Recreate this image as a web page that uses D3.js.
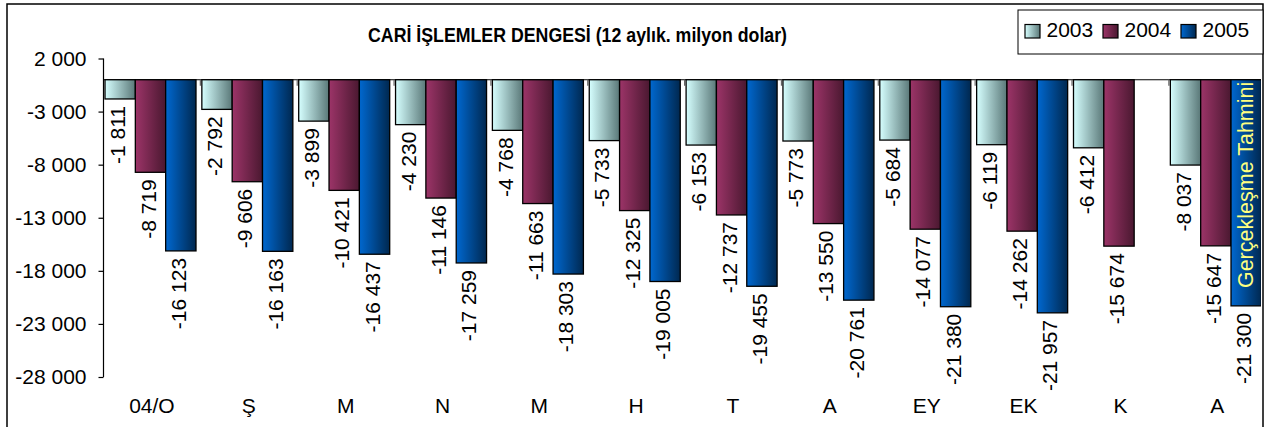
<!DOCTYPE html>
<html>
<head>
<meta charset="utf-8">
<script src="https://cdn.jsdelivr.net/npm/d3@7/dist/d3.min.js"></script>
<style>
  html, body { margin: 0; padding: 0; background: #fff; }
  svg { display: block; font-family: "Liberation Sans", Arial, sans-serif; }
</style>
</head>
<body>
<svg id="chart" width="1265" height="427"></svg>
<script>
const categories = ["04/O", "Ş", "M", "N", "M", "H", "T", "A", "EY", "EK", "K", "A"];
const seriesNames = ["2003", "2004", "2005"];
const values2003 = [-1811, -2792, -3899, -4230, -4768, -5733, -6153, -5773, -5684, -6119, -6412, -8037];
const values2004 = [-8719, -9606, -10421, -11146, -11663, -12325, -12737, -13550, -14077, -14262, -15674, -15647];
const values2005 = [-16123, -16163, -16437, -17259, -18303, -19005, -19455, -20761, -21380, -21957, null, -21300];
const yTicks = [2000, -3000, -8000, -13000, -18000, -23000, -28000];
const titleText = "CARİ İŞLEMLER DENGESİ (12 aylık. milyon dolar)";
const noteText = "Gerçekleşme Tahmini";

const seriesValues = [values2003, values2004, values2005];
const gradStops = [
  ["#d6ffff", "#5a7878"],
  ["#9c3468", "#4a1830"],
  ["#0068d0", "#002850"]
];

const svg = d3.select("#chart");
const loc = d3.formatLocale({decimal: ",", thousands: " ", grouping: [3], currency: ["", ""], minus: "-"});
const fmt = loc.format(",d");

// gradients
const defs = svg.append("defs");
gradStops.forEach((s, i) => {
  const g = defs.append("linearGradient").attr("id", "g" + i)
    .attr("x1", "0%").attr("x2", "100%").attr("y1", "0%").attr("y2", "0%");
  g.append("stop").attr("offset", "0%").attr("stop-color", s[0]);
  g.append("stop").attr("offset", "100%").attr("stop-color", s[1]);
});

const plotLeft = 103.5, groupW = 96.85;
const plotRight = 1261;
defs.append("clipPath").attr("id", "plotclip").append("rect")
  .attr("x", 0).attr("y", 0).attr("width", plotRight).attr("height", 427);

const x0 = d3.scaleBand().domain(d3.range(categories.length))
  .range([plotLeft, plotLeft + groupW * categories.length]).paddingInner(0).paddingOuter(0);
const x1 = d3.scaleBand().domain(d3.range(seriesNames.length)).range([1.5, 92.5]).padding(0);
const y = d3.scaleLinear().domain([2000, -28000]).range([58.5, 377]);

// outer border
svg.append("rect").attr("x", 7).attr("y", 4).attr("width", 1256).attr("height", 440)
  .attr("fill", "none").attr("stroke", "#000").attr("stroke-width", 1.5);

// title
svg.append("text").attr("x", 577.5).attr("y", 41.5).attr("text-anchor", "middle")
  .attr("font-size", 21).attr("font-weight", "bold")
  .attr("textLength", 419).attr("lengthAdjust", "spacingAndGlyphs")
  .text(titleText);

// y axis
const yAxis = svg.append("g").attr("transform", `translate(${plotLeft},0)`)
  .call(d3.axisLeft(y).tickValues(yTicks).tickFormat(fmt).tickSize(5).tickPadding(12));
yAxis.select(".domain").attr("stroke", "#000").attr("stroke-width", 1.2).attr("d", `M-0,${y(2000)}V${y(-28000)}`);
yAxis.selectAll(".tick line").attr("stroke", "#000").attr("stroke-width", 1.2);
yAxis.selectAll(".tick text").attr("font-size", 21).attr("fill", "#000")
  .attr("font-family", "'Liberation Sans', Arial, sans-serif");

const plot = svg.append("g").attr("clip-path", "url(#plotclip)");

// zero line with category ticks
plot.append("line").attr("x1", plotLeft).attr("x2", plotRight + 5)
  .attr("y1", y(0)).attr("y2", y(0)).attr("stroke", "#000").attr("stroke-width", 1.2);
plot.selectAll(".ctick").data(d3.range(1, categories.length)).join("line")
  .attr("x1", d => x0(d)).attr("x2", d => x0(d))
  .attr("y1", y(0)).attr("y2", y(0) + 6)
  .attr("stroke", "#666").attr("stroke-width", 1.2);

// bars
const barData = [];
categories.forEach((c, i) => {
  seriesValues.forEach((vals, s) => {
    if (vals[i] !== null) barData.push({i, s, v: vals[i]});
  });
});

plot.selectAll(".bar").data(barData).join("rect")
  .attr("x", d => x0(d.i) + x1(d.s))
  .attr("width", x1.bandwidth())
  .attr("y", y(0))
  .attr("height", d => y(d.v) - y(0))
  .attr("fill", d => `url(#g${d.s})`)
  .attr("stroke", "#000").attr("stroke-width", 1.3);

// value labels
svg.selectAll(".vlabel").data(barData).join("text")
  .attr("transform", d => `translate(${x0(d.i) + x1(d.s) + x1.bandwidth() / 2},${y(d.v) + 7}) rotate(-90)`)
  .attr("text-anchor", "end").attr("dy", 5)
  .attr("font-size", 21).attr("fill", "#000")
  .text(d => fmt(d.v));

// note in last bar
const lastI = categories.length - 1;
plot.append("text")
  .attr("transform", `translate(${x0(lastI) + x1(2) + x1.bandwidth() / 2},${y(0) + 2}) rotate(-90)`)
  .attr("text-anchor", "end").attr("dy", 7)
  .attr("font-size", 21.5).attr("fill", "#ffff80")
  .text(noteText);

// category labels
svg.selectAll(".clabel").data(categories).join("text")
  .attr("x", (d, i) => x0(i) + groupW / 2).attr("y", 413)
  .attr("text-anchor", "middle").attr("font-size", 21).attr("fill", "#000")
  .text(d => d);

// legend
const lg = svg.append("g");
lg.append("rect").attr("x", 1018).attr("y", 10).attr("width", 245).attr("height", 44)
  .attr("fill", "#fff").attr("stroke", "#000").attr("stroke-width", 1);
seriesNames.forEach((n, s) => {
  const gx = 1025 + s * 78;
  lg.append("rect").attr("x", gx).attr("y", 24.5).attr("width", 15).attr("height", 13.5)
    .attr("fill", `url(#g${s})`).attr("stroke", "#000").attr("stroke-width", 1.2);
  lg.append("text").attr("x", gx + 21.5).attr("y", 36.5).attr("font-size", 21).attr("fill", "#000").text(n);
});
</script>
</body>
</html>
